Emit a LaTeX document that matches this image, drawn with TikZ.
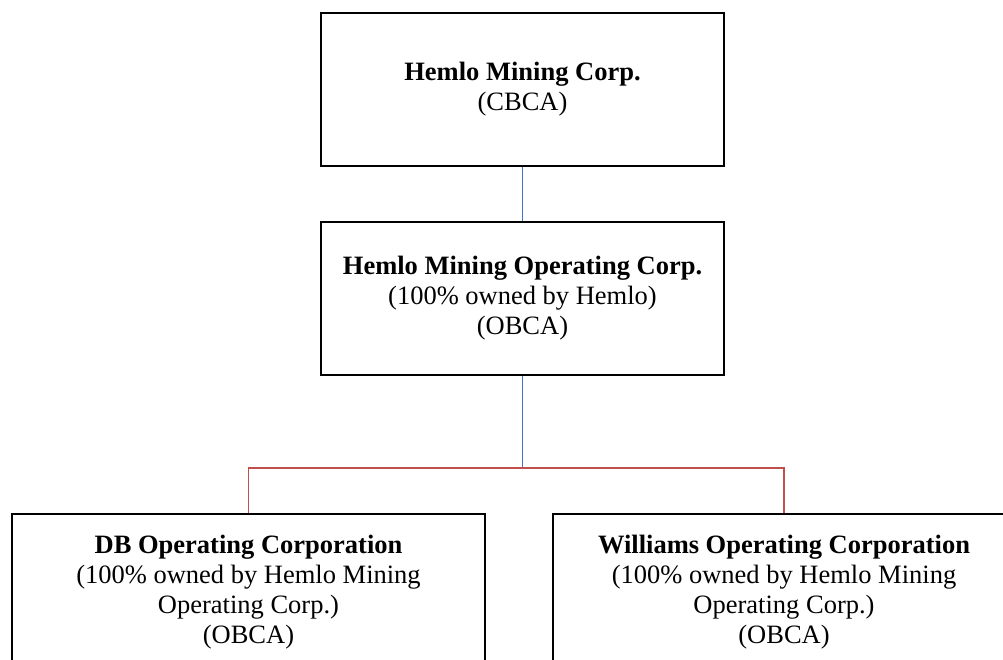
\documentclass[tikz,border=0pt]{standalone}
\usepackage{fontspec}
\setmainfont{Liberation Serif}
\usetikzlibrary{positioning}
\definecolor{ownblue}{RGB}{68,114,196}
\definecolor{subred}{RGB}{192,80,77}

\begin{document}
\begin{tikzpicture}
% style
	[x=1bp, y=1bp,
	entity/.style={rectangle, draw=black, line width=2bp, align=center, inner sep=0pt, font=\fontsize{26.6}{30}\selectfont},
	parent/.style={entity, minimum width=403bp, minimum height=153bp},
	subsid/.style={entity, minimum width=473bp, minimum height=156bp},
	ownlink/.style={draw=ownblue, line width=1.5bp},
	sublink/.style={draw=subred, line width=1.5bp}]

	\useasboundingbox (0,0) rectangle (1003,-660);
	\clip (0,0) rectangle (1003,-660);

	% holding companies
	\node [parent] (hemlo) at (522.5,-89.5) {\textbf{Hemlo Mining Corp.}\\(CBCA)};
	\node [parent, node distance=54bp] (hmoc) [below=of hemlo] {\textbf{Hemlo Mining Operating Corp.}\\(100\% owned by Hemlo)\\(OBCA)};

	% subsidiaries
	\node [subsid] (db) at (248.5,-592) {\textbf{DB Operating Corporation}\\(100\% owned by Hemlo Mining\\Operating Corp.)\\(OBCA)};
	\node [subsid, minimum width=462bp] (williams) at (784,-592) {\textbf{Williams Operating Corporation}\\(100\% owned by Hemlo Mining\\Operating Corp.)\\(OBCA)};

	% links
	\coordinate [below=92bp of hmoc.south] (fork);
	\draw [ownlink] (hemlo) -- (hmoc);
	\draw [ownlink] (hmoc) -- (fork);
	\draw [sublink] (db.north) |- (fork) -| (williams.north);
\end{tikzpicture}
\end{document}
